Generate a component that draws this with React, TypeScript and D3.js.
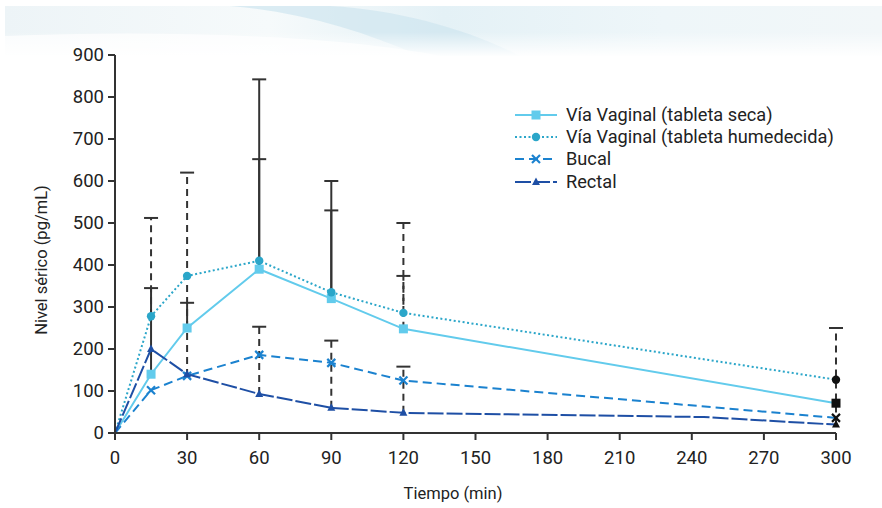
import React from "react";
import * as d3 from "d3";

const times = [0, 15, 30, 60, 90, 120, 300];
const vaginalSeca = [0, 140, 250, 390, 320, 248, 71];
const vaginalHumedecida = [0, 278, 374, 410, 335, 286, 127];
const bucal = [0, 102, 136, 186, 167, 125, 36];
const rectalTimes = [0, 15, 30, 60, 90, 120, 245, 300];
const rectal = [0, 200, 140, 93, 60, 48, 38, 20];
const rectalMarkerIdx = [1, 2, 3, 4, 5, 7];

// error bars: time, from, to, style
const errTime = [15, 15, 30, 30, 60, 60, 60, 90, 90, 90, 120, 120, 120, 300];
const errFrom = [278, 140, 136, 250, 390, 410, 93, 320, 320, 60, 286, 248, 48, 20];
const errTo = [512, 345, 620, 310, 652, 842, 253, 600, 530, 220, 500, 374, 158, 250];
const errDashed = [true, false, true, false, false, false, true, false, false, true, true, true, true, true];

const xTicks = [0, 30, 60, 90, 120, 150, 180, 210, 240, 270, 300];
const yTicks = [0, 100, 200, 300, 400, 500, 600, 700, 800, 900];

const legendLabels = [
  "Vía Vaginal (tableta seca)",
  "Vía Vaginal (tableta humedecida)",
  "Bucal",
  "Rectal",
];

const FONT = "'Roboto', 'Liberation Sans', sans-serif";
const AXIS = "#333";
const C_SECA = "#62cbec";
const C_HUM = "#2ba6c9";
const C_BUC = "#1b82cf";
const C_REC = "#1e4fa5";

export default function App() {
  const W = 882;
  const H = 508;
  const x = d3.scaleLinear().domain([0, 300]).range([115, 836]);
  const y = d3.scaleLinear().domain([0, 900]).range([433, 55]);
  const line = d3
    .line<[number, number]>()
    .x((d) => x(d[0]))
    .y((d) => y(d[1]));

  const pts = (ts: number[], vs: number[]) => ts.map((t, i) => [t, vs[i]] as [number, number]);

  const markerColor = (i: number, c: string) => (times[i] === 300 ? "#111" : c);

  const square = (cx: number, cy: number, c: string, k: string) => (
    <rect key={k} x={cx - 4.5} y={cy - 4.5} width={9} height={9} fill={c} />
  );
  const circle = (cx: number, cy: number, c: string, k: string) => (
    <circle key={k} cx={cx} cy={cy} r={4.2} fill={c} />
  );
  const cross = (cx: number, cy: number, c: string, k: string) => (
    <g key={k} stroke={c} strokeWidth={2.2}>
      <line x1={cx - 4} y1={cy - 4} x2={cx + 4} y2={cy + 4} />
      <line x1={cx - 4} y1={cy + 4} x2={cx + 4} y2={cy - 4} />
    </g>
  );
  const tri = (cx: number, cy: number, c: string, k: string) => (
    <path key={k} d={`M${cx},${cy - 4.5}L${cx + 4},${cy + 3}L${cx - 4},${cy + 3}Z`} fill={c} />
  );

  const legendY = [115, 137, 159, 182];
  const legendStyles = [
    { c: C_SECA, dash: "none", m: square },
    { c: C_HUM, dash: "2,2.5", m: circle },
    { c: C_BUC, dash: "9,5", m: cross },
    { c: C_REC, dash: "16,3", m: tri },
  ];

  return (
    <svg width={W} height={H} style={{ display: "block", position: "absolute", left: 0, top: 0 }}>
      <defs>
        <linearGradient id="bg" x1="0" y1="0" x2="1" y2="0">
          <stop offset="0" stopColor="#edf4f7" />
          <stop offset="0.3" stopColor="#f6fafb" />
          <stop offset="0.5" stopColor="#e4f1f6" />
          <stop offset="0.75" stopColor="#eef6f9" />
          <stop offset="1" stopColor="#f2f7f9" />
        </linearGradient>
        <linearGradient id="fade" x1="0" y1="0" x2="0" y2="1">
          <stop offset="0" stopColor="#fff" stopOpacity="0" />
          <stop offset="1" stopColor="#fff" stopOpacity="1" />
        </linearGradient>
        <clipPath id="band">
          <rect x={5} y={6} width={W - 5} height={50} />
        </clipPath>
      </defs>
      <rect x={0} y={0} width={W} height={H} fill="#fff" />
      <g clipPath="url(#band)">
        <rect x={5} y={6} width={W - 5} height={50} fill="url(#bg)" />
        <path d={`M230,6 C300,12 360,30 420,56 L520,56 C470,30 400,10 330,6 Z`} fill="#cfe6ef" opacity={0.7} />
        <path d={`M5,36 C150,30 330,34 440,56 L5,56 Z`} fill="#fff" opacity={0.7} />
        <rect x={0} y={32} width={W} height={25} fill="url(#fade)" />
      </g>

      {/* error bars */}
      {errTime.map((t, i) => {
        const cx = x(t);
        return (
          <g key={"e" + i} stroke={AXIS} strokeWidth={2}>
            <line
              x1={cx}
              x2={cx}
              y1={y(errFrom[i])}
              y2={y(errTo[i])}
              strokeDasharray={errDashed[i] ? "7,5" : "none"}
            />
            <line x1={cx - 7} x2={cx + 7} y1={y(errTo[i])} y2={y(errTo[i])} />
          </g>
        );
      })}

      {/* series lines */}
      <path d={line(pts(times, vaginalSeca)) || ""} fill="none" stroke={C_SECA} strokeWidth={2} />
      <path
        d={line(pts(times, vaginalHumedecida)) || ""}
        fill="none"
        stroke={C_HUM}
        strokeWidth={2}
        strokeDasharray="2,2.5"
      />
      <path d={line(pts(times, bucal)) || ""} fill="none" stroke={C_BUC} strokeWidth={2} strokeDasharray="9,5" />
      <path d={line(pts(rectalTimes, rectal)) || ""} fill="none" stroke={C_REC} strokeWidth={2} strokeDasharray="16,3" />

      {/* markers */}
      {times.map((t, i) =>
        i === 0 ? null : square(x(t), y(vaginalSeca[i]), markerColor(i, C_SECA), "s" + i)
      )}
      {times.map((t, i) =>
        i === 0 ? null : circle(x(t), y(vaginalHumedecida[i]), markerColor(i, C_HUM), "h" + i)
      )}
      {times.map((t, i) => (i === 0 ? null : cross(x(t), y(bucal[i]), markerColor(i, C_BUC), "b" + i)))}
      {rectalMarkerIdx.map((i) =>
        tri(x(rectalTimes[i]), y(rectal[i]), rectalTimes[i] === 300 ? "#111" : C_REC, "r" + i)
      )}

      {/* axes */}
      <g stroke={AXIS} strokeWidth={2}>
        <line x1={x(0)} x2={x(0)} y1={y(900)} y2={y(0)} />
        <line x1={x(0)} x2={x(300)} y1={y(0)} y2={y(0)} />
        {yTicks.map((v) => (
          <line key={"yt" + v} x1={x(0) - 7} x2={x(0)} y1={y(v)} y2={y(v)} />
        ))}
        {xTicks.map((v) => (
          <line key={"xt" + v} x1={x(v)} x2={x(v)} y1={y(0)} y2={y(0) + 7} />
        ))}
      </g>
      <g fontFamily={FONT} fontSize={18.5} fill="#222">
        {yTicks.map((v) => (
          <text key={"yl" + v} x={x(0) - 11} y={y(v)} dy="0.35em" textAnchor="end">
            {v}
          </text>
        ))}
        {xTicks.map((v) => (
          <text key={"xl" + v} x={x(v)} y={y(0) + 31} textAnchor="middle">
            {v}
          </text>
        ))}
        <text x={453} y={499} textAnchor="middle" fontSize={16.5}>
          Tiempo (min)
        </text>
        <text transform={`translate(47,${260}) rotate(-90)`} textAnchor="middle" fontSize={16.5}>
          Nivel sérico (pg/mL)
        </text>
      </g>

      {/* legend */}
      {legendLabels.map((lab, i) => {
        const s = legendStyles[i];
        const ly = legendY[i];
        return (
          <g key={"lg" + i}>
            <line x1={515} x2={557} y1={ly} y2={ly} stroke={s.c} strokeWidth={2} strokeDasharray={s.dash} />
            {s.m(536, ly, s.c, "lm" + i)}
            <text x={566} y={ly} dy="0.35em" fontFamily={FONT} fontSize={18.2} fill="#222">
              {lab}
            </text>
          </g>
        );
      })}
    </svg>
  );
}
